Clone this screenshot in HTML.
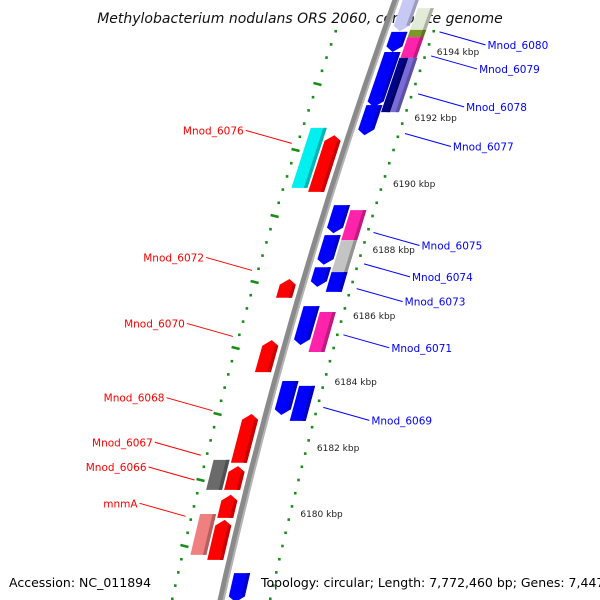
<!DOCTYPE html>
<html><head><meta charset="utf-8"><style>
body{margin:0;background:#fff}
svg{display:block;font-family:"DejaVu Sans","Liberation Sans",sans-serif}
</style></head><body>
<svg id="c" width="600" height="600" viewBox="0 0 600 600">
<text x="300" y="23" text-anchor="middle" font-size="14" font-style="italic" fill="#111">Methylobacterium nodulans ORS 2060, complete genome</text>
<g id="rul"></g><g id="bb"></g><g id="genes"></g><g id="labs"></g>
<text x="9" y="587" font-size="12.5" fill="#000">Accession: NC_011894</text>
<text x="261" y="587" font-size="12.5" fill="#000">Topology: circular; Length: 7,772,460 bp; Genes: 7,447</text>
</svg>
<script>
// data
const geneNames=["top-a","Mnod_6080","Mnod_6078","Mnod_6077","Mnod_6075","Mnod_6074","Mnod_6073","Mnod_6071","Mnod_6069","bottom-a","Mnod_6076","Mnod_6072","Mnod_6070","Mnod_6068","Mnod_6067","Mnod_6066","mnmA"];
const geneStart=[6195.6,6194.58,6193.97,6192.36,6189.33,6188.42,6187.45,6186.27,6184.0,6178.18,6191.45,6187.09,6185.24,6183.0,6181.42,6180.55,6179.79];
const geneEnd=[6194.6,6193.97,6192.3,6191.45,6188.48,6187.52,6186.85,6185.09,6182.97,6177.3,6189.73,6186.52,6184.27,6181.52,6180.7,6179.85,6178.58];
const geneStrand=[1,1,1,1,1,1,1,1,1,1,-1,-1,-1,-1,-1,-1,-1];
const geneColor=["#c8c8f4","#0000ff","#0000ff","#0000ff","#0000ff","#0000ff","#0000ff","#0000ff","#0000ff","#0000ff","#ff0000","#ff0000","#ff0000","#ff0000","#ff0000","#ff0000","#ff0000"];
const featStart=[6195.3,6194.64,6194.42,6193.79,6193.79,6189.18,6188.27,6187.3,6186.09,6183.85,6191.67,6181.61,6179.97];
const featEnd=[6194.64,6194.42,6193.79,6192.15,6192.15,6188.27,6187.27,6186.7,6184.88,6182.79,6189.85,6180.70,6178.73];
const featSide=[1,1,1,1,2,1,1,1,1,1,-1,-1,-1];
const featColor=["#e4ead8","#7a9a28","#ff22aa","#000088","#7a6cd8","#ff22aa","#c4c4c4","#0000ff","#ff22aa","#0000ff","#00f0f0","#6a6a6a","#f08080"];
const majorTicks=[6194,6192,6190,6188,6186,6184,6182,6180];
const tickLabels=["6194 kbp","6192 kbp","6190 kbp","6188 kbp","6186 kbp","6184 kbp","6182 kbp","6180 kbp"];
const labelText=["Mnod_6080","Mnod_6079","Mnod_6078","Mnod_6077","Mnod_6075","Mnod_6074","Mnod_6073","Mnod_6071","Mnod_6069","Mnod_6076","Mnod_6072","Mnod_6070","Mnod_6068","Mnod_6067","Mnod_6066","mnmA"];
const labelKbp=[6194.58,6193.85,6192.7,6191.5,6188.5,6187.55,6186.8,6185.4,6183.2,6191.2,6187.35,6185.35,6183.1,6181.75,6181.0,6179.9];
const labelSide=[1,1,1,1,1,1,1,1,1,-1,-1,-1,-1,-1,-1,-1];

const NS="http://www.w3.org/2000/svg";
const Y=k=>117+(6192-k)*33;
const BX=y=>395.8-0.3585*y+0.000112*y*y;
const P=(k,d)=>{const y=Y(k);return [BX(y)+d,y];};
function el(tag,attrs,parent){const e=document.createElementNS(NS,tag);for(const a in attrs)e.setAttribute(a,attrs[a]);parent.appendChild(e);return e;}
const pts=a=>a.map(p=>p[0].toFixed(1)+","+p[1].toFixed(1)).join(" ");
function shade(c,f){const n=parseInt(c.slice(1),16);let r=n>>16,g=(n>>8)&255,b=n&255;return "rgb("+Math.round(r*f)+","+Math.round(g*f)+","+Math.round(b*f)+")";}

// rulers
const rul=document.getElementById('rul');
[[49,0],[-49,1]].forEach(([d,par])=>{
  for(let i=0;i<=100;i++){
    const k=6177+i*0.4; const y=Y(k); if(y<25||y>600)continue;
    const q=Math.round((k-6177)*10)%20; // position in 2kbp
    const odd=Math.round(k*10)%20===10;
    const major=Math.abs((k*10)%10)<0.5 && ((par===0&&!odd)||(par===1&&odd));
    const a=P(k,d-(major?4:1.3)),b=P(k,d+(major?4:1.3));
    const l=el('line',{x1:a[0],y1:a[1]+(major?-1:0),x2:b[0],y2:b[1]+(major?1:0),stroke:"#1a8c1a","stroke-width":major?2.6:2.6},rul);
    
    
  }
});
majorTicks.forEach((k,i)=>{const p=P(k,59);
  const t=el('text',{x:p[0],y:p[1]+4,"font-size":9,fill:"#222"},rul);t.textContent=tickLabels[i];
  
  });

// backbone
const bb=document.getElementById('bb');
let L=[],R=[];for(let y=0;y<=600;y+=10){L.push([BX(y)-3.5,y]);R.push([BX(y)+3.5,y]);}
const bp=el('polygon',{points:pts(L.concat(R.reverse())),fill:"#8a8a8a"},bb);


let R2=[];for(let y=0;y<=600;y+=10)R2.push([BX(y)+1.5,y]);let R3=[];for(let y=600;y>=0;y-=10)R3.push([BX(y)+3.5,y]);
el('polygon',{points:pts(R2.concat(R3)),fill:"#b4b4b4"},bb);

const g=document.getElementById('genes');
// rect features
featStart.forEach((s,i)=>{
  const side=featSide[i];let d1,d2;
  if(side===1){d1=25;d2=41;} else if(side===2){d1=33;d2=42;} else {d1=-41;d2=-25;}
  if(i===3){d1=24;d2=33;}
  const e=featEnd[i];
  const poly=el('polygon',{points:pts([P(s,d1),P(s,d2),P(e,d2),P(e,d1)]),fill:featColor[i]},g);
  
  
  el('polygon',{points:pts([P(s,d2-3.5),P(s,d2),P(e,d2),P(e,d2-3.5)]),fill:shade(featColor[i],0.75)},g);
});
// gene arrows
geneStart.forEach((s,i)=>{
  const st=geneStrand[i];const e=geneEnd[i];
  const d1=st===1?7:-23,d2=st===1?23:-7,m=(d1+d2)/2;
  const tipk=0.17;let p;
  if(st===1){p=[P(s,d1),P(s,d2),P(e+tipk,d2),P(e,m),P(e+tipk,d1)];}
  else{p=[P(e,d1),P(e,d2),P(s-tipk,d2),P(s,m),P(s-tipk,d1)];}
  const poly=el('polygon',{points:pts(p),fill:geneColor[i]},g);
  
  
  const sp=st===1?[P(s,d2-3.5),P(s,d2),P(e+tipk,d2),P(e+tipk,d2-3.5)]:[P(e,d2-3.5),P(e,d2),P(s-tipk,d2),P(s-tipk,d2-3.5)];
  el('polygon',{points:pts(sp),fill:shade(geneColor[i],0.78)},g);
});
// labels
const labs=document.getElementById('labs');
labelText.forEach((t,i)=>{
  const side=labelSide[i];const k=labelKbp[i];
  const a=P(k,side*55);const b=[a[0]+side*46,a[1]+(side===1?13:-13)];
  if(side===-1){b[1]=a[1]-13;}
  const col=side===1?"#0000ff":"#ff0000";
  const ln=el('line',{x1:a[0],y1:a[1],x2:b[0],y2:b[1],stroke:col,"stroke-width":1},labs);
  
  
  const tx=el('text',{x:b[0]+side*2,y:b[1]+4,"font-size":10.5,fill:col,"text-anchor":side===1?"start":"end"},labs);
  tx.textContent=t;
  
  
});
</script>
</body></html>
